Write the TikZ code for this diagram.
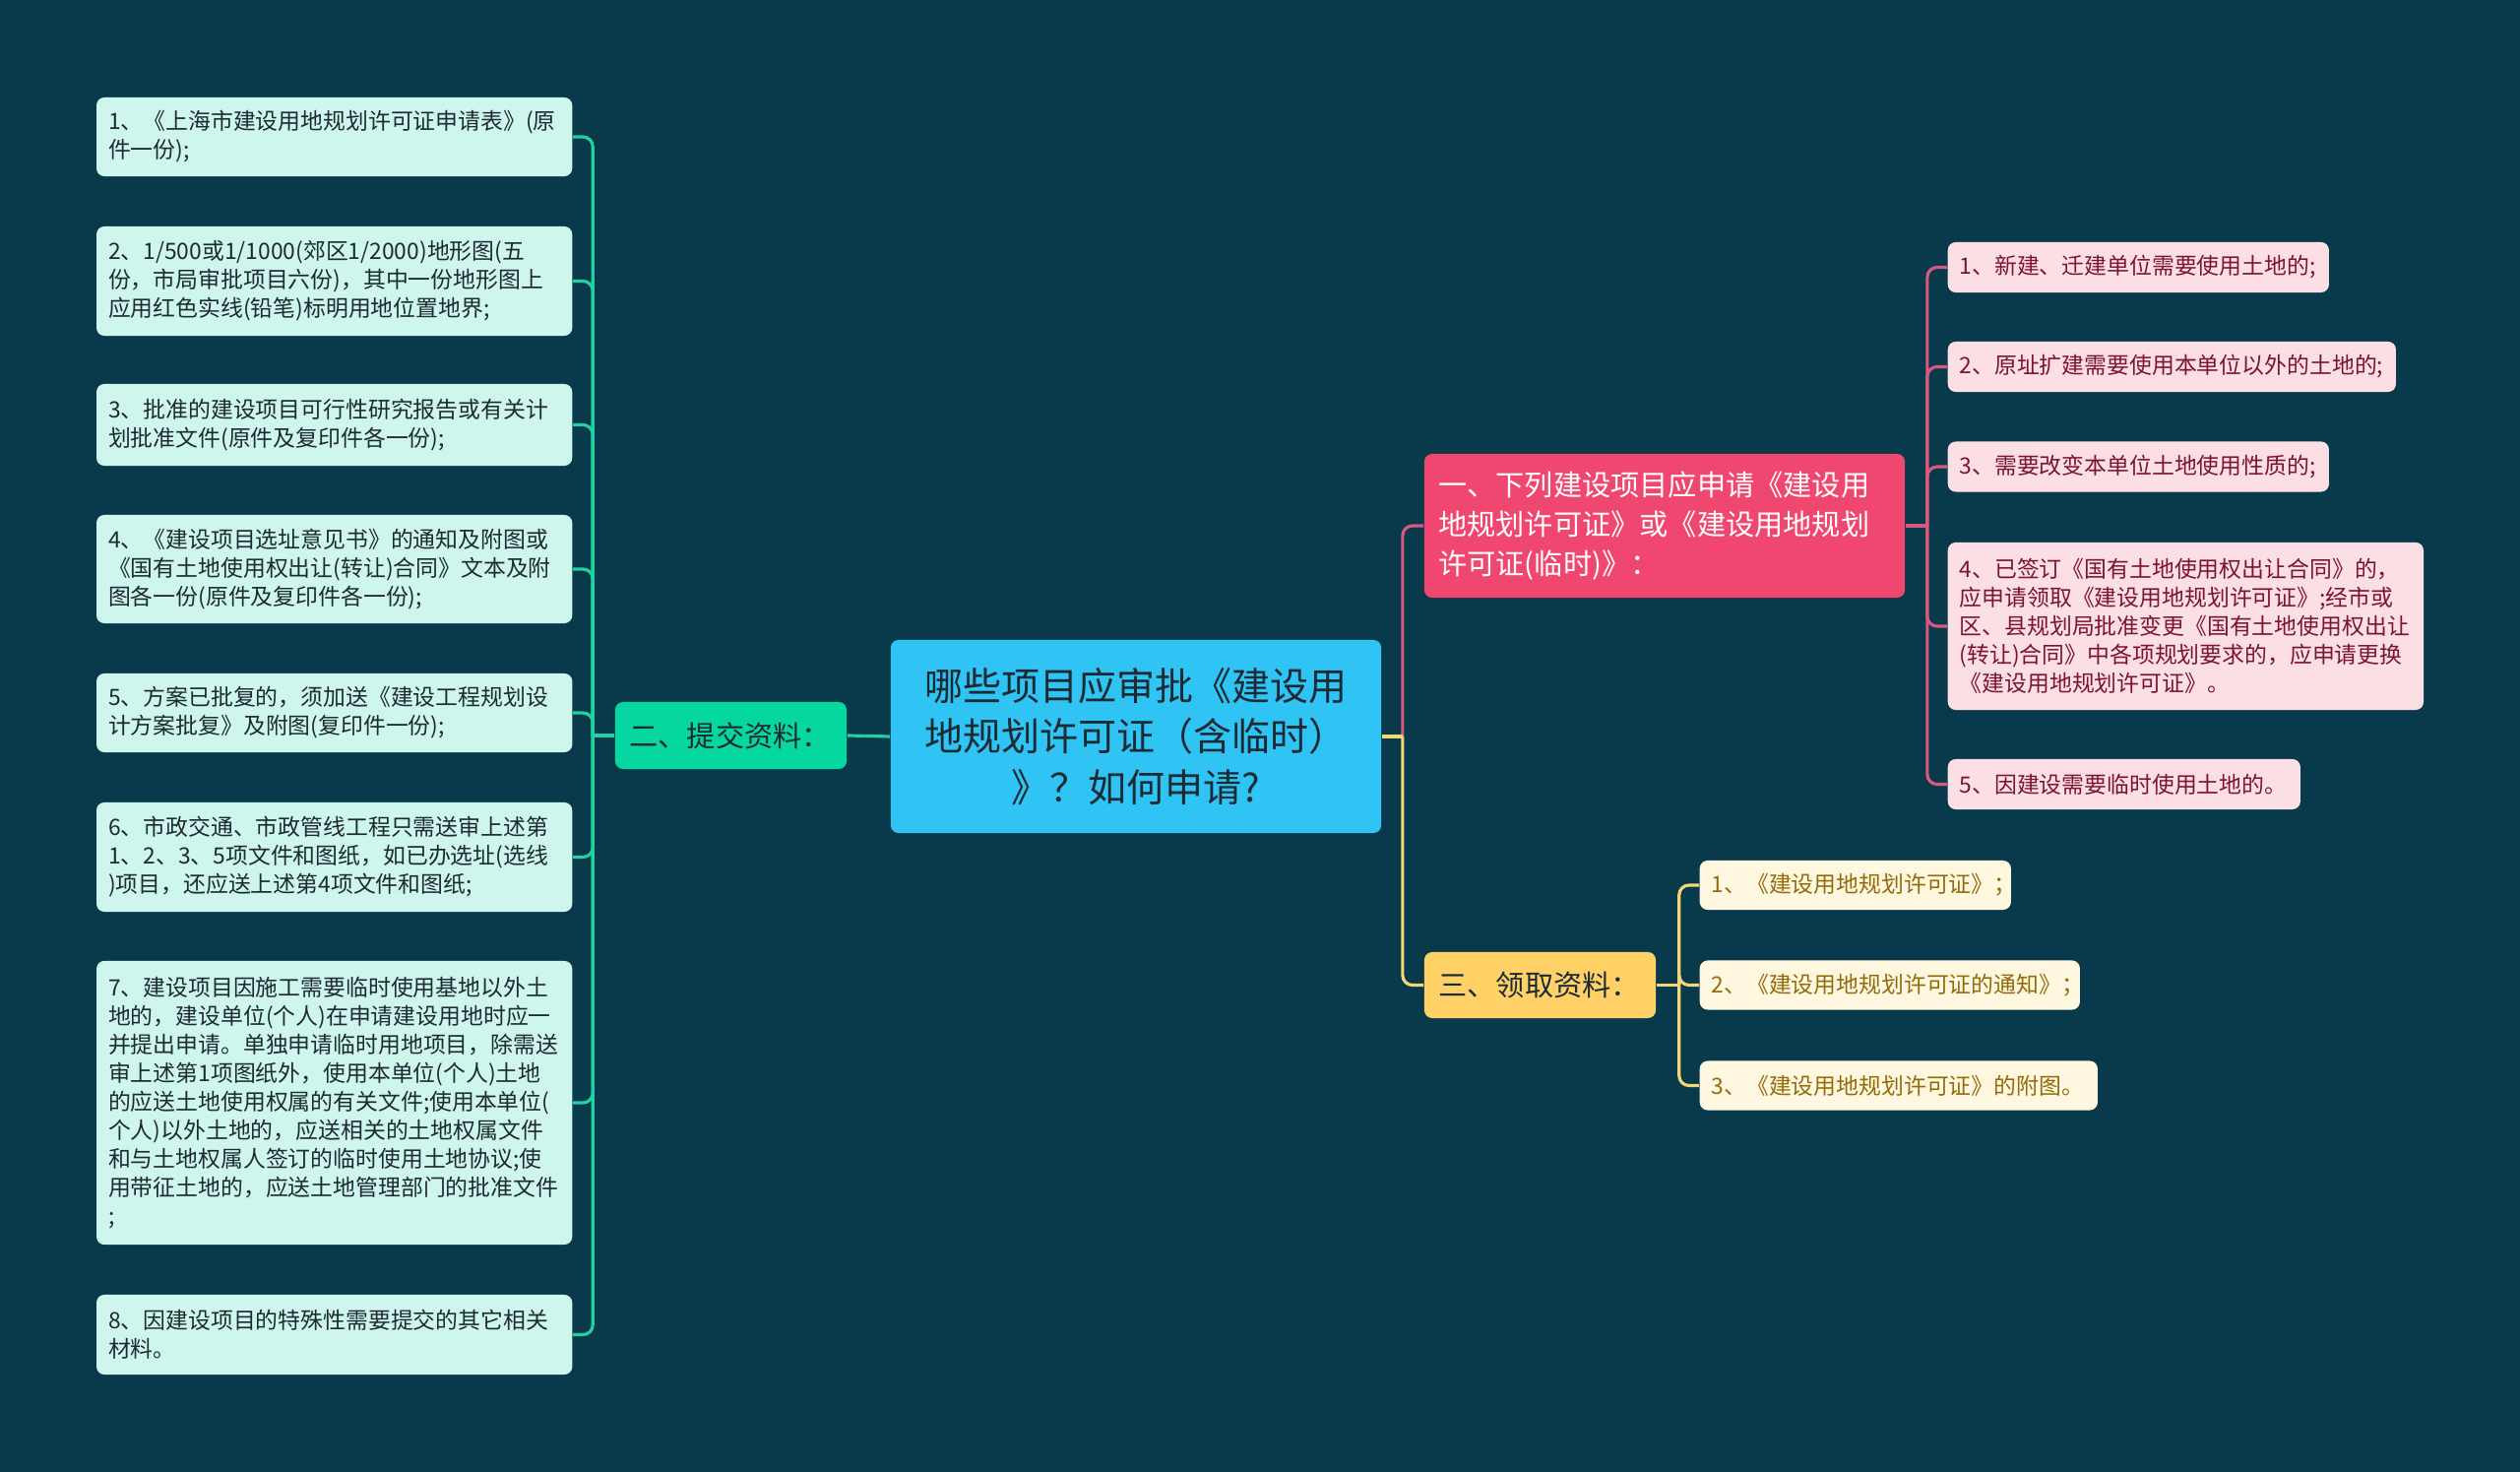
\documentclass[tikz,border=0pt]{standalone}
\usepackage{fontspec}
\setmainfont{Noto Sans CJK SC}
\usetikzlibrary{calc}
\definecolor{bgc}{HTML}{083A4C}
\definecolor{rootc}{HTML}{2FC4F4}
\definecolor{inkc}{HTML}{1C2A33}
\definecolor{grnc}{HTML}{06D6A0}
\definecolor{grnl}{HTML}{CFF6EC}
\definecolor{grnln}{HTML}{22D0A0}
\definecolor{pnkc}{HTML}{EF476F}
\definecolor{pnkl}{HTML}{FCDEE5}
\definecolor{pnkln}{HTML}{D9587F}
\definecolor{pnkink}{HTML}{7A1530}
\definecolor{ylwc}{HTML}{FFD166}
\definecolor{ylwl}{HTML}{FFF7DF}
\definecolor{ylwln}{HTML}{F4D675}
\definecolor{ylwink}{HTML}{946B0A}
\newcommand{\leaffont}{\fontsize{6.5pt}{8.25pt}\selectfont}
\tikzset{
  mmbox/.style={rounded corners=0.08cm, inner xsep=0.12cm, inner ysep=0pt, align=left},
  rootbox/.style={mmbox, fill=rootc, text=inkc, align=center, font=\fontsize{11.1pt}{14.7pt}\selectfont},
  secbox/.style={mmbox, inner xsep=0.145cm, font=\fontsize{8.3pt}{11.4pt}\selectfont},
  gleaf/.style={mmbox, fill=grnl, text=inkc, font=\leaffont, text width=4.59cm, anchor=east},
  pleaf/.style={mmbox, fill=pnkl, text=pnkink, font=\leaffont, anchor=west, minimum height=0.51cm},
  yleaf/.style={mmbox, fill=ylwl, text=ylwink, font=\leaffont, anchor=west, minimum height=0.5cm},
  lnk/.style={line width=0.9pt, rounded corners=0.1cm},
  gln/.style={lnk, draw=grnln},
  pln/.style={lnk, draw=pnkln},
  yln/.style={lnk, draw=ylwln},
}

\begin{document}
\begin{tikzpicture}[x=0.01cm, y=-0.01cm]
\fill[bgc] (0,0) rectangle (2560,1495);

% centre and first level
\node[rootbox, text width=4.74cm, minimum height=1.96cm] (root) at (1154,748)
  {哪些项目应审批《建设用\\地规划许可证（含临时）\\》？如何申请?};
\node[secbox, fill=grnc, text=inkc, text width=2.06cm, minimum height=0.68cm] (er) at (742.5,747) {二、提交资料：};
\node[secbox, fill=pnkc, text=white, text width=4.59cm, minimum height=1.46cm] (yi) at (1691,534)
  {一、下列建设项目应申请《建设用\\地规划许可证》或《建设用地规划\\许可证(临时)》：};
\node[secbox, fill=ylwc, text=inkc, text width=2.06cm, minimum height=0.67cm] (san) at (1564.5,1000.5) {三、领取资料：};

% submitted documents
\node[gleaf, minimum height=0.80cm] (g1) at (582,139)
  {1、《上海市建设用地规划许可证申请表》(原\\件一份);};
\node[gleaf, minimum height=1.11cm] (g2) at (582,285.5)
  {2、1/500或1/1000(郊区1/2000)地形图(五\\份，市局审批项目六份)，其中一份地形图上\\应用红色实线(铅笔)标明用地位置地界;};
\node[gleaf, minimum height=0.83cm] (g3) at (582,431.5)
  {3、批准的建设项目可行性研究报告或有关计\\划批准文件(原件及复印件各一份);};
\node[gleaf, minimum height=1.10cm] (g4) at (582,578)
  {4、《建设项目选址意见书》的通知及附图或\\《国有土地使用权出让(转让)合同》文本及附\\图各一份(原件及复印件各一份);};
\node[gleaf, minimum height=0.80cm] (g5) at (582,724)
  {5、方案已批复的，须加送《建设工程规划设\\计方案批复》及附图(复印件一份);};
\node[gleaf, minimum height=1.11cm] (g6) at (582,870.5)
  {6、市政交通、市政管线工程只需送审上述第\\1、2、3、5项文件和图纸，如已办选址(选线\\)项目，还应送上述第4项文件和图纸;};
\node[gleaf, minimum height=2.88cm] (g7) at (582,1120)
  {7、建设项目因施工需要临时使用基地以外土\\地的，建设单位(个人)在申请建设用地时应一\\并提出申请。单独申请临时用地项目，除需送\\审上述第1项图纸外，使用本单位(个人)土地\\的应送土地使用权属的有关文件;使用本单位(\\个人)以外土地的，应送相关的土地权属文件\\和与土地权属人签订的临时使用土地协议;使\\用带征土地的，应送土地管理部门的批准文件\\;};
\node[gleaf, minimum height=0.81cm] (g8) at (582,1355.5)
  {8、因建设项目的特殊性需要提交的其它相关\\材料。};

% projects that need the permit
\node[pleaf, text width=3.63cm] (p1) at (1978,271.5) {1、新建、迁建单位需要使用土地的;};
\node[pleaf, text width=4.31cm] (p2) at (1978,372.5) {2、原址扩建需要使用本单位以外的土地的;};
\node[pleaf, text width=3.63cm] (p3) at (1978,474) {3、需要改变本单位土地使用性质的;};
\node[pleaf, text width=4.59cm, minimum height=1.70cm] (p4) at (1978,636)
  {4、已签订《国有土地使用权出让合同》的，\\应申请领取《建设用地规划许可证》;经市或\\区、县规划局批准变更《国有土地使用权出让\\(转让)合同》中各项规划要求的，应申请更换\\《建设用地规划许可证》。};
\node[pleaf, text width=3.34cm] (p5) at (1978,796.5) {5、因建设需要临时使用土地的。};

% documents received
\node[yleaf, text width=2.92cm] (y1) at (1726,899) {1、《建设用地规划许可证》；};
\node[yleaf, text width=3.62cm] (y2) at (1726,1000.5) {2、《建设用地规划许可证的通知》；};
\node[yleaf, text width=3.80cm] (y3) at (1726,1102.5) {3、《建设用地规划许可证》的附图。};

% connectors
\draw[gln] (root.west) -- (er.east);
\coordinate (gsplit) at ($(er.west)+(-22,0)$);
\draw[gln] (er.west) -- (gsplit);
\foreach \i in {1,...,8} \draw[gln] (gsplit) |- (g\i.east);

\coordinate (rsplit) at ($(root.east)+(21,0)$);
\draw[pln] (rsplit) |- (yi.west);
\draw[yln] (root.east) -- (rsplit);
\draw[yln] (rsplit) |- (san.west);

\coordinate (psplit) at ($(yi.east)+(22,0)$);
\draw[pln] (yi.east) -- (psplit);
\foreach \i in {1,...,5} \draw[pln] (psplit) |- (p\i.west);

\coordinate (ysplit) at ($(san.east)+(23,0)$);
\draw[yln] (san.east) -- (ysplit);
\foreach \i in {1,2,3} \draw[yln] (ysplit) |- (y\i.west);
\end{tikzpicture}
\end{document}
